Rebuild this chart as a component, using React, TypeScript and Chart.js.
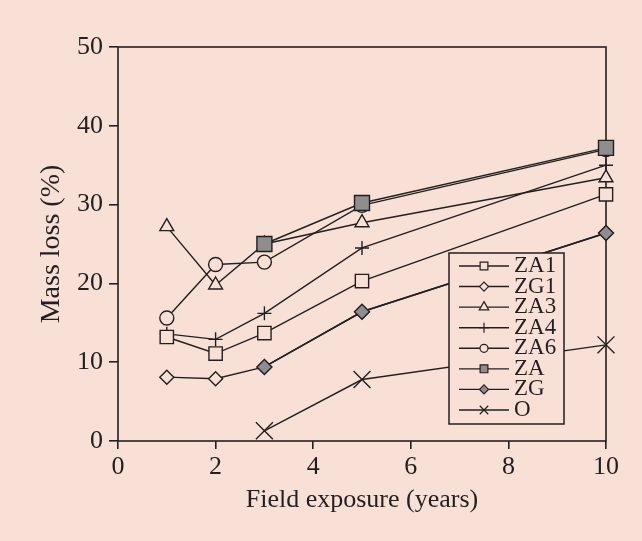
import React, { useEffect, useRef } from 'react';
import { Chart, registerables } from 'chart.js';
import { drawPoint } from 'chart.js/helpers';

Chart.register(...registerables);

// ---- data ----
const years = [1, 2, 3, 5, 10];
const seriesNames = ['ZA1', 'ZG1', 'ZA3', 'ZA4', 'ZA6', 'ZA', 'ZG', 'O'];
const za1 = [13.2, 11.1, 13.7, 20.3, 31.3];
const zg1 = [8.1, 7.9, 9.4, 16.4, 26.4];
const za3 = [27.2, 19.8, 25.0, 27.7, 33.4];
const za4 = [13.6, 12.9, 16.2, 24.5, 35.0];
const za6 = [15.6, 22.4, 22.7, 29.9, 37.0];
const za = [null, null, 25.0, 30.2, 37.2];
const zg = [null, null, 9.4, 16.4, 26.4];
const o = [null, null, 1.3, 7.8, 12.2];
const seriesValues = [za1, zg1, za3, za4, za6, za, zg, o];
const xTickValues = [0, 2, 4, 6, 8, 10];
const yTickValues = [0, 10, 20, 30, 40, 50];

// ---- styles ----
const INK = '#231F20';
const BG = '#F9E0D6';
const GRAY = '#8E8E8E';
const FONT = "'Liberation Serif', 'Times New Roman', serif";

const markerStyles = [
  { pointStyle: 'rect', radius: 9.4, fill: BG, legendRadius: 5.5, order: 2 },
  { pointStyle: 'rectRot', radius: 7, fill: BG, legendRadius: 4.5, order: 2 },
  { pointStyle: 'triangle', radius: 8, fill: BG, legendRadius: 5.5, order: 2 },
  { pointStyle: 'cross', radius: 7, fill: BG, legendRadius: 5, order: 2 },
  { pointStyle: 'circle', radius: 7, fill: BG, legendRadius: 4, order: 2 },
  { pointStyle: 'rect', radius: 10.6, fill: GRAY, legendRadius: 5.5, order: 0 },
  { pointStyle: 'rectRot', radius: 7.5, fill: GRAY, legendRadius: 4.5, order: 0 },
  { pointStyle: 'crossRot', radius: 12, fill: BG, legendRadius: 6, order: 1 },
];

const framePlugin = {
  id: 'frame',
  beforeDraw(chart: any) {
    const { ctx, width, height } = chart;
    ctx.save();
    ctx.fillStyle = BG;
    ctx.fillRect(0, 0, width, height);
    ctx.restore();
  },
  beforeDatasetsDraw(chart: any) {
    const { ctx, chartArea: a } = chart;
    ctx.save();
    ctx.strokeStyle = INK;
    ctx.lineWidth = 1.6;
    ctx.strokeRect(a.left, a.top, a.right - a.left, a.bottom - a.top);
    ctx.restore();
  },
};

const legendPlugin = {
  id: 'insideLegend',
  afterDatasetsDraw(chart: any) {
    const { ctx, chartArea: a } = chart;
    const boxL = a.right - 157;
    const boxT = a.top + 206;
    const boxW = 115;
    const boxH = 171;
    ctx.save();
    ctx.fillStyle = BG;
    ctx.fillRect(boxL, boxT, boxW, boxH);
    ctx.strokeStyle = INK;
    ctx.lineWidth = 1.5;
    ctx.strokeRect(boxL, boxT, boxW, boxH);
    const step = 20.57;
    chart.data.datasets.forEach((ds: any, i: number) => {
      const y = boxT + 13 + i * step;
      ctx.strokeStyle = INK;
      ctx.lineWidth = 1.4;
      ctx.beginPath();
      ctx.moveTo(boxL + 10, y);
      ctx.lineTo(boxL + 60, y);
      ctx.stroke();
      const st = markerStyles[i];
      ctx.fillStyle = st.fill;
      ctx.strokeStyle = INK;
      ctx.lineWidth = 1.2;
      drawPoint(ctx, { pointStyle: st.pointStyle, radius: st.legendRadius, rotation: 0, borderWidth: 1.2 } as any, boxL + 35, y);
      ctx.fillStyle = INK;
      ctx.font = `23px ${FONT}`;
      ctx.textBaseline = 'middle';
      ctx.textAlign = 'left';
      ctx.fillText(ds.label, boxL + 65, y);
    });
    ctx.restore();
  },
};

export default function App() {
  const ref = useRef<HTMLCanvasElement>(null);
  useEffect(() => {
    const datasets = seriesNames.map((name, i) => {
      const st = markerStyles[i];
      return {
        label: name,
        data: years
          .map((x, j) => ({ x, y: seriesValues[i][j] }))
          .filter((p) => p.y !== null),
        borderColor: INK,
        borderWidth: 1.4,
        backgroundColor: st.fill,
        pointBackgroundColor: st.fill,
        pointBorderColor: INK,
        pointBorderWidth: 1.4,
        pointRadius: st.radius,
        pointHoverRadius: st.radius,
        pointStyle: st.pointStyle,
        showLine: true,
        fill: false,
        tension: 0,
        clip: false as any,
        order: st.order,
      };
    });

    const chart = new Chart(ref.current!, {
      type: 'scatter',
      data: { datasets: datasets as any },
      options: {
        responsive: false,
        animation: false,
        devicePixelRatio: 1,
        layout: { padding: { left: 0, top: 47, right: 36, bottom: 0 } },
        plugins: { legend: { display: false }, tooltip: { enabled: false } },
        scales: {
          x: {
            type: 'linear',
            min: 0,
            max: 10,
            afterBuildTicks: (s: any) => {
              s.ticks = xTickValues.map((v) => ({ value: v }));
            },
            afterFit: (s: any) => {
              s.height = 100;
            },
            ticks: { color: INK, font: { family: FONT, size: 26 }, padding: 3 },
            grid: { drawOnChartArea: false, drawTicks: true, tickLength: 8, color: INK, lineWidth: 1.6 },
            border: { display: false },
            title: {
              display: true,
              text: 'Field exposure (years)',
              color: INK,
              font: { family: FONT, size: 26 },
              padding: { top: 0, bottom: 25 },
            },
          },
          y: {
            type: 'linear',
            min: 0,
            max: 50,
            afterBuildTicks: (s: any) => {
              s.ticks = yTickValues.map((v) => ({ value: v }));
            },
            afterFit: (s: any) => {
              s.width = 118;
            },
            ticks: { color: INK, font: { family: FONT, size: 26 }, padding: 6 },
            grid: { drawOnChartArea: false, drawTicks: true, tickLength: 9, color: INK, lineWidth: 1.6 },
            border: { display: false },
            title: {
              display: true,
              text: 'Mass loss (%)',
              color: INK,
              font: { family: FONT, size: 28 },
              padding: { top: 35, bottom: 0 },
            },
          },
        },
      },
      plugins: [framePlugin, legendPlugin],
    });
    return () => chart.destroy();
  }, []);

  return (
    <div style={{ position: 'fixed', left: 0, top: 0, width: 642, height: 541, background: BG }}>
      <canvas ref={ref} width={642} height={541} style={{ width: 642, height: 541, display: 'block' }} />
    </div>
  );
}
